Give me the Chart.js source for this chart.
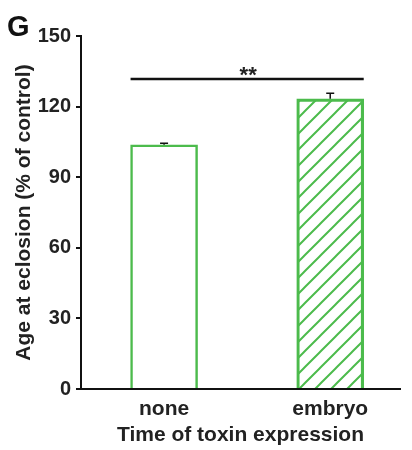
<!DOCTYPE html>
<html>
<head>
<meta charset="utf-8">
<script src="https://cdn.jsdelivr.net/npm/chart.js@4"></script>
<style>
html,body{margin:0;padding:0;background:#fff}
#wrap{width:412px;height:450px}
</style>
</head>
<body>
<div id="wrap"><canvas id="ageChart" width="412" height="450"></canvas></div>
<script>

// ===============================
// DATA
// ===============================

const categories = ["none","embryo"]
const ageValues = [103.8,123.3]
const ageErrors = [0.6,2.4]
const yTicks = [0,30,60,90,120,150]
const sigLevel = 131.7
const sigLabel = "**"

const green = "rgb(76,187,76)"
const font = "'Liberation Sans', Arial, sans-serif"

// hatch for the embryo bar
function makeHatch(){
const size = 16
const c = document.createElement("canvas")
c.width = size
c.height = size
const g = c.getContext("2d")
g.strokeStyle = green
g.lineWidth = 2
g.beginPath()
g.moveTo(-2,size+2)
g.lineTo(size+2,-2)
g.moveTo(-2,2)
g.lineTo(2,-2)
g.moveTo(size-2,size+2)
g.lineTo(size+2,size-2)
g.stroke()
return g.createPattern(c,"repeat")
}

const ctx = document.getElementById("ageChart")
const hatch = makeHatch()

// error bars + significance bracket + panel letter
const extras = {
id:"extras",
afterDatasetsDraw(chart){
const c = chart.ctx
const y = chart.scales.y
const meta = chart.getDatasetMeta(0)

c.save()
c.strokeStyle = "#111"
c.lineWidth = 1.5
meta.data.forEach((bar,i)=>{
const top = y.getPixelForValue(ageValues[i])
const up = y.getPixelForValue(ageValues[i]+ageErrors[i])
c.beginPath()
c.moveTo(bar.x,top)
c.lineTo(bar.x,up)
c.moveTo(bar.x-4,up)
c.lineTo(bar.x+4,up)
c.stroke()
})

// bracket
const first = meta.data[0]
const last = meta.data[meta.data.length-1]
const ly = y.getPixelForValue(sigLevel)
c.lineWidth = 2.5
c.beginPath()
c.moveTo(first.x-first.width/2,ly)
c.lineTo(last.x+last.width/2,ly)
c.stroke()

c.fillStyle = "#222"
c.font = "bold 22px " + font
c.textAlign = "center"
c.textBaseline = "alphabetic"
c.fillText(sigLabel,(first.x+last.x)/2+1,ly+3)

c.font = "bold 29px " + font
c.textAlign = "left"
c.fillStyle = "#111"
c.fillText("G",7,36)
c.restore()
}
}

new Chart(ctx,{
type:"bar",
data:{
datasets:[{
data:ageValues.map((v,i)=>({x:i,y:v})),
backgroundColor:["#fff",hatch],
borderColor:green,
borderWidth:2.5,
barThickness:67
}]
},
options:{
responsive:false,
animation:false,
layout:{padding:{left:0,right:12,top:36,bottom:0}},
plugins:{
legend:{display:false},
tooltip:{enabled:false}
},
scales:{
x:{
type:"linear",
offset:false,
min:-0.5,
max:1.42,
afterBuildTicks:s=>{ s.ticks = categories.map((c,i)=>({value:i})) },
afterFit:s=>{ s.height = 61 },
grid:{display:false,drawTicks:false},
border:{display:true,color:"#111",width:2},
ticks:{
color:"#222",
padding:8,
font:{family:font,size:21,weight:"bold"},
callback:v=>categories[v]
},
title:{
display:true,
text:"Time of toxin expression",
color:"#222",
padding:{top:0,bottom:2},
font:{family:font,size:21,weight:"bold"}
}
},
y:{
min:0,
max:150,
afterBuildTicks:s=>{ s.ticks = yTicks.map(v=>({value:v})) },
afterFit:s=>{ s.width = 81 },
grid:{drawOnChartArea:false,drawTicks:true,tickLength:5,color:"#111",lineWidth:2},
border:{display:true,color:"#111",width:2},
ticks:{
color:"#222",
padding:5,
font:{family:font,size:20,weight:"bold"}
},
title:{
display:true,
text:"Age at eclosion (% of control)",
color:"#222",
padding:{top:12,bottom:0},
font:{family:font,size:21,weight:"bold"}
}
}
}
},
plugins:[extras]
})

</script>
</body>
</html>
